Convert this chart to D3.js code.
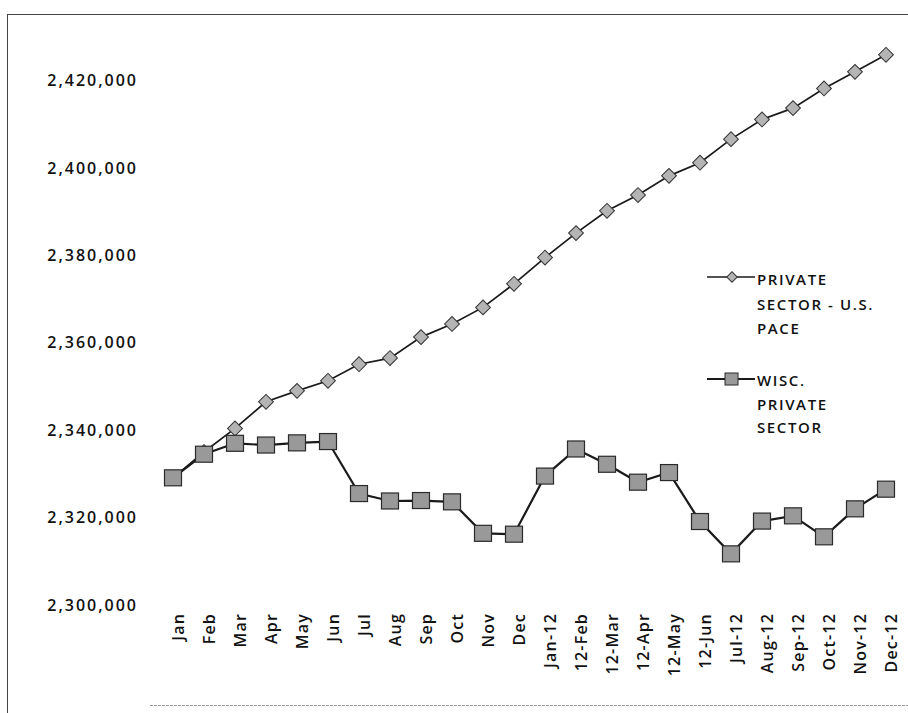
<!DOCTYPE html>
<html>
<head>
<meta charset="utf-8">
<script src="https://cdn.jsdelivr.net/npm/d3@7"></script>
<style>
  html, body { margin: 0; padding: 0; background: #fff; }
  svg { display: block; }
  text { font-family: "Open Sans", "Noto Sans", sans-serif; fill: #111; font-weight: 600; }
</style>
</head>
<body>
<svg id="chart" width="908" height="713"></svg>
<script>
// Monthly private-sector employment, actual Wisconsin vs. the U.S. pace
const months = ["Jan","Feb","Mar","Apr","May","Jun","Jul","Aug","Sep","Oct","Nov","Dec",
  "Jan-12","12-Feb","12-Mar","12-Apr","12-May","12-Jun","Jul-12","Aug-12","Sep-12","Oct-12","Nov-12","Dec-12"];

const usPace = [2328600, 2334500, 2339900, 2346000, 2348500, 2350800, 2354600, 2356000,
  2360800, 2363800, 2367600, 2373000, 2379000, 2384600, 2389700, 2393300,
  2397700, 2400700, 2406100, 2410600, 2413200, 2417700, 2421500, 2425400];

const wisc = [2328600, 2334000, 2336500, 2336100, 2336600, 2336900, 2325000, 2323300,
  2323400, 2323100, 2315900, 2315700, 2329000, 2335200, 2331700, 2327600,
  2329800, 2318600, 2311200, 2318700, 2319900, 2315100, 2321500, 2326000];

const yTicks = [2300000, 2320000, 2340000, 2360000, 2380000, 2400000, 2420000];

const legendUS = ["PRIVATE", "SECTOR - U.S.", "PACE"];
const legendWI = ["WISC.", "PRIVATE", "SECTOR"];

const svg = d3.select("#chart");

// outer frame
svg.append("line").attr("x1", 7.5).attr("y1", 15).attr("x2", 7.5).attr("y2", 713)
  .attr("stroke", "#444").attr("stroke-width", 1);
svg.append("line").attr("x1", 7).attr("y1", 14.5).attr("x2", 908).attr("y2", 14.5)
  .attr("stroke", "#444").attr("stroke-width", 1);
svg.append("line").attr("x1", 150).attr("y1", 705.5).attr("x2", 908).attr("y2", 705.5)
  .attr("stroke", "#999").attr("stroke-width", 1).attr("stroke-dasharray", "3,1");

const x = d3.scalePoint().domain(months).range([173, 886]);
const y = d3.scaleLinear().domain([2300000, 2420000]).range([602.8, 78.4]);

// value axis
const yAxis = svg.append("g")
  .attr("transform", "translate(140,0)")
  .call(d3.axisLeft(y).tickValues(yTicks).tickFormat(d3.format(",")).tickSize(0).tickPadding(2));
yAxis.select(".domain").remove();
yAxis.selectAll("text")
  .attr("dy", "0.45em")
  .style("font-size", "16px")
  .style("letter-spacing", "2px")
  .style("font-family", "'Open Sans', sans-serif")
  .style("font-weight", "600")
  .attr("fill", "#111");

// category axis, labels rotated to read bottom-to-top
const xAxis = svg.append("g")
  .attr("transform", "translate(0,606)")
  .call(d3.axisBottom(x).tickSize(0));
xAxis.select(".domain").remove();
xAxis.selectAll("text")
  .attr("text-anchor", "end")
  .attr("transform", "translate(0,7) rotate(-90)")
  .attr("x", 0)
  .attr("y", 0)
  .attr("dy", "10px")
  .style("font-size", "16px")
  .style("letter-spacing", "1.2px")
  .style("font-family", "'Open Sans', sans-serif")
  .style("font-weight", "600")
  .attr("fill", "#111");

const line = d3.line().x((d, i) => x(months[i])).y(d => y(d));

// U.S. pace series
svg.append("path").datum(usPace)
  .attr("d", line).attr("fill", "none")
  .attr("stroke", "#1a1a1a").attr("stroke-width", 1.7);

// Wisconsin series
svg.append("path").datum(wisc)
  .attr("d", line).attr("fill", "none")
  .attr("stroke", "#1a1a1a").attr("stroke-width", 2.2);

const diamond = d3.symbol().type(d3.symbolSquare).size(110);

svg.append("g").selectAll("path").data(usPace).join("path")
  .attr("d", diamond)
  .attr("transform", (d, i) => `translate(${x(months[i])},${y(d)}) rotate(45)`)
  .attr("fill", "#b4b4b4").attr("stroke", "#333").attr("stroke-width", 1);

svg.append("g").selectAll("rect").data(wisc).join("rect")
  .attr("x", (d, i) => x(months[i]) - 8.5)
  .attr("y", d => y(d) - 8)
  .attr("width", 17).attr("height", 16)
  .attr("fill", "#999").attr("stroke", "#2a2a2a").attr("stroke-width", 1.2);

// legend
const lg = svg.append("g");
lg.append("line").attr("x1", 707).attr("x2", 755).attr("y1", 277).attr("y2", 277)
  .attr("stroke", "#1a1a1a").attr("stroke-width", 1.7);
lg.append("path").attr("d", d3.symbol().type(d3.symbolSquare).size(55))
  .attr("transform", "translate(732,277) rotate(45)")
  .attr("fill", "#b4b4b4").attr("stroke", "#333").attr("stroke-width", 1);
lg.append("line").attr("x1", 707).attr("x2", 755).attr("y1", 379).attr("y2", 379)
  .attr("stroke", "#1a1a1a").attr("stroke-width", 2.2);
lg.append("rect").attr("x", 725).attr("y", 373).attr("width", 13).attr("height", 12)
  .attr("fill", "#999").attr("stroke", "#2a2a2a").attr("stroke-width", 1);

lg.selectAll("text.us").data(legendUS).join("text").attr("class", "us")
  .attr("x", 757).attr("y", (d, i) => 285 + i * 24.5)
  .style("font-size", "15px").style("letter-spacing", "1.6px").text(d => d);
lg.selectAll("text.wi").data(legendWI).join("text").attr("class", "wi")
  .attr("x", 757).attr("y", (d, i) => 386 + i * 23.5)
  .style("font-size", "15px").style("letter-spacing", "1.6px").text(d => d);
</script>
</body>
</html>
